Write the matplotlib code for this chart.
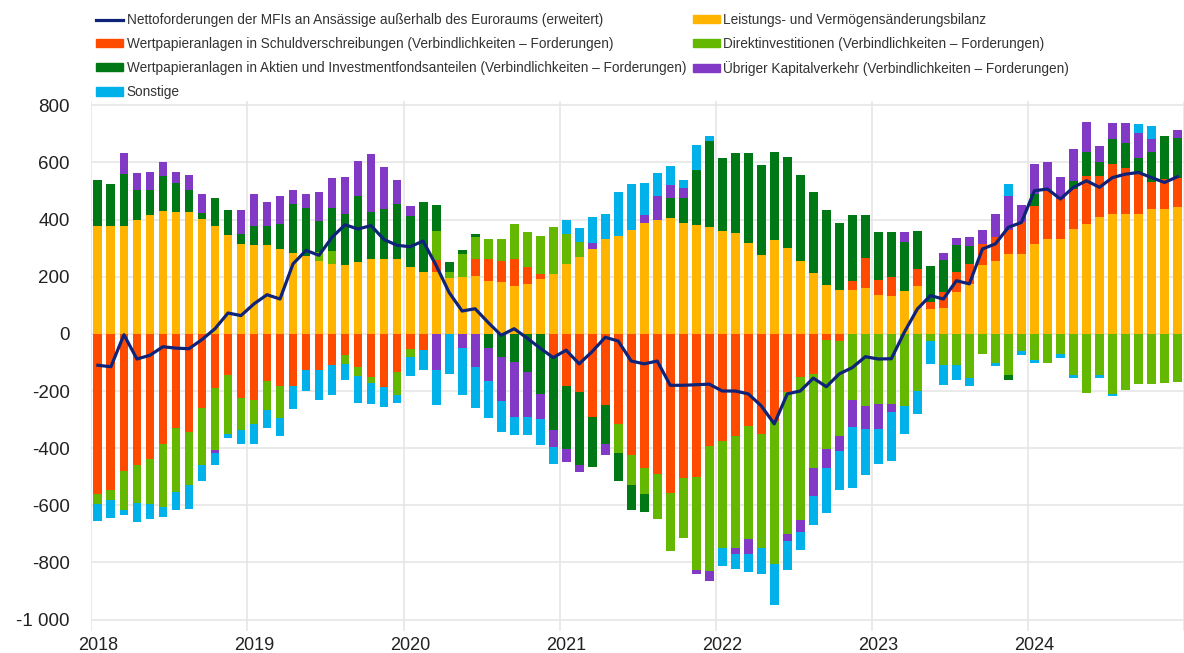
import numpy as np
import matplotlib
matplotlib.use("Agg")
import matplotlib.pyplot as plt
from matplotlib.patches import Patch
from matplotlib.lines import Line2D

# monthly, Jan 2018 .. Dec 2024 (EUR bn)
years = ["2018", "2019", "2020", "2021", "2022", "2023", "2024"]

leistungsbilanz = [
    378, 378, 378, 400, 415, 431, 427, 425, 401, 376, 345, 314,
    310, 310, 298, 284, 273, 255, 245, 240, 250, 262, 262, 262,
    233, 216, 215, 195, 198, 204, 186, 180, 169, 175, 192, 210,
    245, 268, 297, 332, 342, 363, 387, 400, 405, 387, 381, 375,
    359, 353, 318, 277, 329, 300, 254, 213, 172, 155, 155, 161,
    137, 134, 151, 169, 87, 90, 148, 175, 240, 256, 280, 280,
    315, 332, 332, 367, 385, 408, 419, 419, 419, 437, 437, 445,
]
schuldverschreibungen = [
    -560, -545, -480, -458, -437, -385, -330, -344, -260, -190, -143, -225,
    -233, -166, -184, -184, -125, -125, -108, -75, -117, -150, -185, -135,
    -52, -58, 45, 0, 0, 58, 76, 76, 93, 58, 17, -82,
    -181, -204, -291, -250, -317, -423, -468, -492, -556, -504, -501, -393,
    -376, -359, -323, -352, -305, -205, -150, -140, -23, -26, 29, 105,
    52, 64, 0, 58, 23, 58, 70, 70, 73, 82, 82, 113,
    134, 169, 140, 140, 169, 145, 175, 163, 140, 93, 105, 100,
]
direktinvestitionen = [
    -35, -35, -135, -135, -160, -220, -225, -185, -200, -215, -207, -110,
    -82, -100, -110, 0, 0, 30, 45, -30, -29, -23, 0, -80,
    -28, 0, 100, 20, 82, 76, 70, 76, 122, 122, 134, 163,
    105, 52, 0, 0, -99, -105, -93, -157, -204, -210, -326, -437,
    -373, -390, -396, -396, -500, -495, -500, -330, -380, -330, -230, -253,
    -247, -246, -253, -201, -26, -108, -108, -154, -72, -102, -143, -61,
    -90, -102, -72, -143, -206, -143, -212, -195, -177, -177, -171, -170,
]
aktien = [
    160, 145, 180, 103, 90, 120, 100, 79, 23, 98, 90, 35,
    66, 66, 86, 170, 169, 110, 150, 180, 233, 163, 175, 192,
    181, 244, 90, 35, 12, 12, -50, -80, -99, -134, -210, -256,
    -221, -256, -175, -134, -99, -87, -64, 0, 70, 87, 192, 300,
    256, 280, 315, 315, 309, 320, 303, 285, 262, 233, 233, 151,
    169, 157, 169, 134, 128, 111, 93, 64, 0, 0, -17, 0,
    41, 0, 0, 29, 82, 47, 87, 87, 58, 105, 151, 140,
]
uebriger_kapitalverkehr = [
    0, 0, 75, 60, 60, 50, 38, 53, 67, -12, 0, 85,
    113, 86, 99, 50, 47, 100, 105, 130, 122, 204, 146, 85,
    35, 0, -125, 0, -50, -115, -115, -155, -192, -157, -87, -58,
    -47, -23, 20, -41, 0, 0, 29, 82, 47, 35, -12, -35,
    0, -23, -52, 0, 0, -26, -44, -96, -67, -55, -96, -79,
    -85, -26, 35, 0, 0, 23, 23, 29, 50, 82, 122, 58,
    105, 99, 76, 111, 105, 58, 58, 70, 87, 47, 0, 30,
]
sonstige = [
    -60, -65, -20, -65, -50, -35, -60, -85, -55, -42, -16, -50,
    -70, -62, -62, -78, -75, -108, -105, -58, -95, -72, -70, -28,
    -67, -70, -125, -140, -165, -145, -130, -108, -64, -64, -93, -58,
    50, 52, 93, 87, 156, 160, 111, 82, 64, 29, 87, 17,
    -64, -52, -64, -93, -145, -102, -62, -102, -157, -134, -212, -163,
    -122, -172, -99, -81, -81, -70, -52, -29, 0, -12, 41, -12,
    -12, 0, -12, -12, 0, -12, -6, 0, 29, 47, 0, 0,
]
nettoforderungen = [
    -110, -115, -3, -88, -75, -45, -50, -52, -20, 18, 73, 64,
    105, 137, 122, 245, 292, 275, 338, 382, 367, 379, 330, 310,
    305, 325, 240, 145, 80, 88, 40, -5, 18, -15, -50, -83,
    -57, -105, -62, -12, -25, -95, -105, -95, -180, -180, -178, -176,
    -200, -200, -210, -252, -315, -210, -200, -155, -185, -140, -118, -80,
    -88, -87, 6, 87, 134, 122, 186, 175, 297, 315, 373, 390,
    501, 507, 472, 513, 536, 513, 547, 559, 565, 547, 530, 550,
]

series = [
    ("Leistungs- und Vermögensänderungsbilanz", leistungsbilanz, "#ffb400"),
    ("Wertpapieranlagen in Schuldverschreibungen (Verbindlichkeiten – Forderungen)",
     schuldverschreibungen, "#ff4b00"),
    ("Direktinvestitionen (Verbindlichkeiten – Forderungen)", direktinvestitionen, "#65b800"),
    ("Wertpapieranlagen in Aktien und Investmentfondsanteilen (Verbindlichkeiten – Forderungen)",
     aktien, "#007816"),
    ("Übriger Kapitalverkehr (Verbindlichkeiten – Forderungen)", uebriger_kapitalverkehr, "#8139c6"),
    ("Sonstige", sonstige, "#00b1ea"),
]
line_label = "Nettoforderungen der MFIs an Ansässige außerhalb des Euroraums (erweitert)"
line_color = "#0f2378"

plt.rcParams["font.family"] = ["Liberation Sans", "DejaVu Sans"]

fig = plt.figure(figsize=(11.84, 6.53), dpi=100)
ax = fig.add_axes([0.0772, 0.0337, 0.9228, 0.8116])

x = np.arange(len(nettoforderungen))
pos_base = np.zeros(len(x))
neg_base = np.zeros(len(x))
for label, values, color in series:
    v = np.array(values, dtype=float)
    pos = np.where(v > 0, v, 0)
    neg = np.where(v < 0, v, 0)
    ax.bar(x, pos, bottom=pos_base, width=0.68, color=color, linewidth=0, zorder=2)
    ax.bar(x, neg, bottom=neg_base, width=0.68, color=color, linewidth=0, zorder=2)
    pos_base += pos
    neg_base += neg

ax.plot(x, nettoforderungen, color=line_color, lw=2.3, zorder=3)

ax.set_xlim(-0.5, 82.9)
ax.set_ylim(-1040, 815)
ax.set_yticks(np.arange(-1000, 801, 200))
ax.set_yticklabels([f"{t:,}".replace(",", " ") for t in range(-1000, 801, 200)])
ax.set_xticks(np.arange(0, len(years) * 12, 12))
ax.set_xticklabels(years)
ax.set_xticks(np.arange(-0.5, 84, 12), minor=True)
ax.tick_params(axis="both", which="both", length=0, colors="#222222")
ax.tick_params(axis="y", labelsize=13.5, pad=15.5)
ax.tick_params(axis="x", labelsize=13, pad=4)
ax.grid(axis="y", color="#e6e6e6", lw=1.2, zorder=0)
ax.grid(axis="x", which="minor", color="#e6e6e6", lw=1.2, zorder=0)
for s in ax.spines.values():
    s.set_visible(False)

legend_kw = dict(loc="upper left", frameon=False, fontsize=9.8, handlelength=2.0,
                 handleheight=0.55, handletextpad=0.25, labelspacing=0.74,
                 borderpad=0, borderaxespad=0)
h_line = Line2D([], [], color=line_color, lw=2.3)
left = [(h_line, line_label)] + [(Patch(color=c), l) for l, _, c in (series[1], series[3], series[5])]
right = [(Patch(color=c), l) for l, _, c in (series[0], series[2], series[4])]
fig.legend([h for h, _ in left], [l for _, l in left],
           bbox_to_anchor=(0.081, 0.980), **legend_kw)
fig.legend([h for h, _ in right], [l for _, l in right],
           bbox_to_anchor=(0.585, 0.980), **legend_kw)
for leg in fig.legends:
    for t in leg.get_texts():
        t.set_color("#333333")

fig.savefig("out.png", dpi=100)
